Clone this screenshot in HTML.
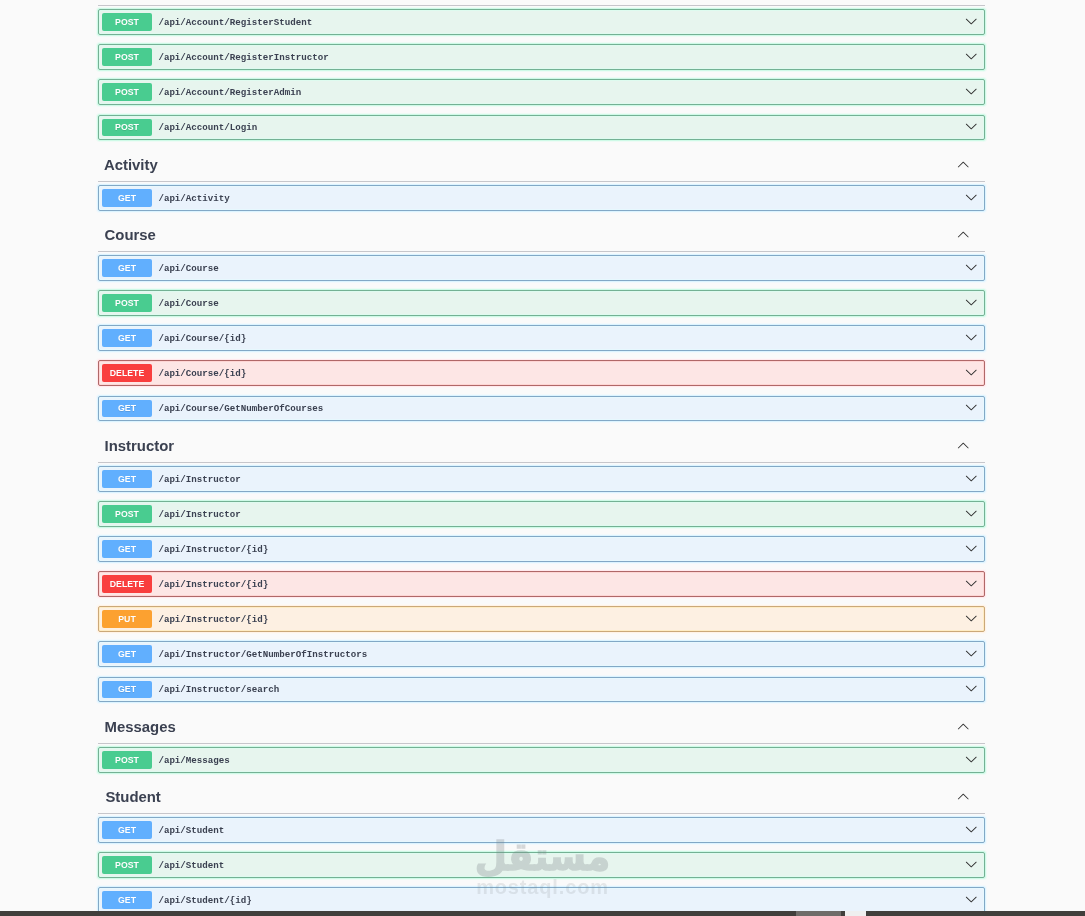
<!DOCTYPE html>
<html lang="en">
<head>
<meta charset="utf-8">
<title>Swagger UI</title>
<style>
*{box-sizing:border-box}
html,body{margin:0;padding:0}
body{width:1085px;height:916px;overflow:hidden;background:#fafafa;position:relative;font-family:"Liberation Sans",sans-serif;color:#3b4151}
#page{position:absolute;left:0;top:0;width:1085px;height:916px;overflow:hidden;will-change:transform}
.tag{position:absolute;left:98px;width:887px;height:33px;margin:0;padding:0 0 0 6px;border-bottom:1px solid #c6c6cb;font:700 14.9px/17px "Liberation Sans",sans-serif;color:#3b4151}
.tag span{position:absolute;left:5.6px;top:7.8px;white-space:nowrap}
button{background:none;border:0;padding:0;margin:0;display:block;line-height:0}
.expand{position:absolute;left:859px;top:9.4px;width:12.5px;height:12.5px}
.arrow{display:block;width:12.5px;height:12.5px;fill:#2e2e2e}
.opblock{position:absolute;left:98px;width:887px;border:1px solid #000;border-radius:2px}
.method{position:absolute;left:3px;top:3px;width:50px;height:17.7px;border-radius:2px;color:#fff;font:700 8.75px/17.7px "Liberation Sans",sans-serif;text-align:center;text-shadow:0 .6px 0 rgba(0,0,0,.1)}
.path{position:absolute;left:59.4px;top:3.8px;font:700 9.165px/18px "Liberation Mono",monospace;color:#3b4151;white-space:nowrap}
.ctl{position:absolute;left:866px;top:4.5px;width:12.5px;height:12.5px}
.short .ctl{top:3.7px}
.short .path{top:3.3px}
.short .method{height:16.8px;line-height:16.8px}
.short .method b{transform:translateY(-.3px) scaleY(1.12)}
.method b{display:block;font-weight:700;transform:translateY(.6px) scaleY(1.12);transform-origin:50% 52%}
.post{border-color:#74b194;background:#e7f5ee;box-shadow:0 0 0 1px rgba(195,250,226,.75),0 0 0 2px rgba(225,252,240,.5),inset 0 0 0 1px rgba(215,255,240,.55)}.post .method{background:#49cc90}
.get{border-color:#82a8c6;background:#eaf3fc;box-shadow:0 0 0 1px rgba(212,242,255,.75),0 0 0 2px rgba(235,248,255,.5),inset 0 0 0 1px rgba(228,251,255,.55)}.get .method{background:#61affe}
.delete{border-color:#b06868;background:#fde6e5;box-shadow:0 0 0 1px rgba(255,230,234,.75),0 0 0 2px rgba(255,244,246,.5),inset 0 0 0 1px rgba(255,195,195,.5)}.delete .method{background:#f93e3e}
.put{border-color:#cba878;background:#fdf0e2;box-shadow:0 0 0 1px rgba(255,240,226,.75),0 0 0 2px rgba(255,248,240,.5),inset 0 0 0 1px rgba(255,232,165,.5)}.put .method{background:#fca130}
#wm{position:absolute;left:462.5px;top:833px;width:160px;text-align:center;color:#7d8488;pointer-events:none}
#wm .ar{font:700 37px/44px "DejaVu Sans",sans-serif;direction:rtl;white-space:nowrap;-webkit-text-stroke:1.4px #7d8488;opacity:.29;transform:translateY(2.5px) scaleY(1.06);transform-origin:50% 50%}
#wm .en{font:700 20px/22px "Liberation Sans",sans-serif;white-space:nowrap;letter-spacing:.85px;margin-top:-1.5px;opacity:.16}
#bar{position:absolute;left:0;top:911px;width:1085px;height:5px;background:#413f3c}
#bar i{position:absolute;top:0;height:5px;display:block}
#bar .thumb{left:796px;width:45px;background:#6f6c69}
#bar .gap{left:845px;width:21px;background:#efefef}
</style>
</head>
<body>
<div id="page">
<section>
<h3 class="tag" style="top:-27px"></h3>
<div class="opblock post" style="top:9px;height:26px"><span class="method"><b>POST</b></span><span class="path">/api/Account/RegisterStudent</span><button class="ctl"><svg class="arrow" viewBox="0 0 20 20"><path d="M17.418 6.109c.272-.268.709-.268.979 0s.271.701 0 .969l-7.908 7.83c-.27.268-.707.268-.979 0l-7.908-7.83c-.27-.268-.27-.701 0-.969.271-.268.709-.268.979 0L10 13.25l7.418-7.141z"/></svg></button></div>
<div class="opblock post" style="top:44px;height:26px"><span class="method"><b>POST</b></span><span class="path">/api/Account/RegisterInstructor</span><button class="ctl"><svg class="arrow" viewBox="0 0 20 20"><path d="M17.418 6.109c.272-.268.709-.268.979 0s.271.701 0 .969l-7.908 7.83c-.27.268-.707.268-.979 0l-7.908-7.83c-.27-.268-.27-.701 0-.969.271-.268.709-.268.979 0L10 13.25l7.418-7.141z"/></svg></button></div>
<div class="opblock post" style="top:79px;height:26px"><span class="method"><b>POST</b></span><span class="path">/api/Account/RegisterAdmin</span><button class="ctl"><svg class="arrow" viewBox="0 0 20 20"><path d="M17.418 6.109c.272-.268.709-.268.979 0s.271.701 0 .969l-7.908 7.83c-.27.268-.707.268-.979 0l-7.908-7.83c-.27-.268-.27-.701 0-.969.271-.268.709-.268.979 0L10 13.25l7.418-7.141z"/></svg></button></div>
<div class="opblock post short" style="top:115px;height:25px"><span class="method"><b>POST</b></span><span class="path">/api/Account/Login</span><button class="ctl"><svg class="arrow" viewBox="0 0 20 20"><path d="M17.418 6.109c.272-.268.709-.268.979 0s.271.701 0 .969l-7.908 7.83c-.27.268-.707.268-.979 0l-7.908-7.83c-.27-.268-.27-.701 0-.969.271-.268.709-.268.979 0L10 13.25l7.418-7.141z"/></svg></button></div>
</section>
<section>
<h3 class="tag" style="top:149px"><span style="left:5.9px">Activity</span><button class="expand"><svg class="arrow" viewBox="0 0 20 20"><path d="M17.418 14.908c.272.268.709.268.979 0s.271-.701 0-.969l-7.908-7.83c-.27-.268-.707-.268-.979 0l-7.908 7.83c-.27.268-.27.701 0 .969.271.268.709.268.979 0L10 7.767l7.418 7.141z"/></svg></button></h3>
<div class="opblock get" style="top:185px;height:26px"><span class="method"><b>GET</b></span><span class="path">/api/Activity</span><button class="ctl"><svg class="arrow" viewBox="0 0 20 20"><path d="M17.418 6.109c.272-.268.709-.268.979 0s.271.701 0 .969l-7.908 7.83c-.27.268-.707.268-.979 0l-7.908-7.83c-.27-.268-.27-.701 0-.969.271-.268.709-.268.979 0L10 13.25l7.418-7.141z"/></svg></button></div>
</section>
<section>
<h3 class="tag" style="top:219px"><span style="left:6.6px">Course</span><button class="expand"><svg class="arrow" viewBox="0 0 20 20"><path d="M17.418 14.908c.272.268.709.268.979 0s.271-.701 0-.969l-7.908-7.83c-.27-.268-.707-.268-.979 0l-7.908 7.83c-.27.268-.27.701 0 .969.271.268.709.268.979 0L10 7.767l7.418 7.141z"/></svg></button></h3>
<div class="opblock get" style="top:255px;height:26px"><span class="method"><b>GET</b></span><span class="path">/api/Course</span><button class="ctl"><svg class="arrow" viewBox="0 0 20 20"><path d="M17.418 6.109c.272-.268.709-.268.979 0s.271.701 0 .969l-7.908 7.83c-.27.268-.707.268-.979 0l-7.908-7.83c-.27-.268-.27-.701 0-.969.271-.268.709-.268.979 0L10 13.25l7.418-7.141z"/></svg></button></div>
<div class="opblock post" style="top:290px;height:26px"><span class="method"><b>POST</b></span><span class="path">/api/Course</span><button class="ctl"><svg class="arrow" viewBox="0 0 20 20"><path d="M17.418 6.109c.272-.268.709-.268.979 0s.271.701 0 .969l-7.908 7.83c-.27.268-.707.268-.979 0l-7.908-7.83c-.27-.268-.27-.701 0-.969.271-.268.709-.268.979 0L10 13.25l7.418-7.141z"/></svg></button></div>
<div class="opblock get" style="top:325px;height:26px"><span class="method"><b>GET</b></span><span class="path">/api/Course/{id}</span><button class="ctl"><svg class="arrow" viewBox="0 0 20 20"><path d="M17.418 6.109c.272-.268.709-.268.979 0s.271.701 0 .969l-7.908 7.83c-.27.268-.707.268-.979 0l-7.908-7.83c-.27-.268-.27-.701 0-.969.271-.268.709-.268.979 0L10 13.25l7.418-7.141z"/></svg></button></div>
<div class="opblock delete" style="top:360px;height:26px"><span class="method"><b>DELETE</b></span><span class="path">/api/Course/{id}</span><button class="ctl"><svg class="arrow" viewBox="0 0 20 20"><path d="M17.418 6.109c.272-.268.709-.268.979 0s.271.701 0 .969l-7.908 7.83c-.27.268-.707.268-.979 0l-7.908-7.83c-.27-.268-.27-.701 0-.969.271-.268.709-.268.979 0L10 13.25l7.418-7.141z"/></svg></button></div>
<div class="opblock get short" style="top:396px;height:25px"><span class="method"><b>GET</b></span><span class="path">/api/Course/GetNumberOfCourses</span><button class="ctl"><svg class="arrow" viewBox="0 0 20 20"><path d="M17.418 6.109c.272-.268.709-.268.979 0s.271.701 0 .969l-7.908 7.83c-.27.268-.707.268-.979 0l-7.908-7.83c-.27-.268-.27-.701 0-.969.271-.268.709-.268.979 0L10 13.25l7.418-7.141z"/></svg></button></div>
</section>
<section>
<h3 class="tag" style="top:430px"><span style="left:6.6px">Instructor</span><button class="expand"><svg class="arrow" viewBox="0 0 20 20"><path d="M17.418 14.908c.272.268.709.268.979 0s.271-.701 0-.969l-7.908-7.83c-.27-.268-.707-.268-.979 0l-7.908 7.83c-.27.268-.27.701 0 .969.271.268.709.268.979 0L10 7.767l7.418 7.141z"/></svg></button></h3>
<div class="opblock get" style="top:466px;height:26px"><span class="method"><b>GET</b></span><span class="path">/api/Instructor</span><button class="ctl"><svg class="arrow" viewBox="0 0 20 20"><path d="M17.418 6.109c.272-.268.709-.268.979 0s.271.701 0 .969l-7.908 7.83c-.27.268-.707.268-.979 0l-7.908-7.83c-.27-.268-.27-.701 0-.969.271-.268.709-.268.979 0L10 13.25l7.418-7.141z"/></svg></button></div>
<div class="opblock post" style="top:501px;height:26px"><span class="method"><b>POST</b></span><span class="path">/api/Instructor</span><button class="ctl"><svg class="arrow" viewBox="0 0 20 20"><path d="M17.418 6.109c.272-.268.709-.268.979 0s.271.701 0 .969l-7.908 7.83c-.27.268-.707.268-.979 0l-7.908-7.83c-.27-.268-.27-.701 0-.969.271-.268.709-.268.979 0L10 13.25l7.418-7.141z"/></svg></button></div>
<div class="opblock get" style="top:536px;height:26px"><span class="method"><b>GET</b></span><span class="path">/api/Instructor/{id}</span><button class="ctl"><svg class="arrow" viewBox="0 0 20 20"><path d="M17.418 6.109c.272-.268.709-.268.979 0s.271.701 0 .969l-7.908 7.83c-.27.268-.707.268-.979 0l-7.908-7.83c-.27-.268-.27-.701 0-.969.271-.268.709-.268.979 0L10 13.25l7.418-7.141z"/></svg></button></div>
<div class="opblock delete" style="top:571px;height:26px"><span class="method"><b>DELETE</b></span><span class="path">/api/Instructor/{id}</span><button class="ctl"><svg class="arrow" viewBox="0 0 20 20"><path d="M17.418 6.109c.272-.268.709-.268.979 0s.271.701 0 .969l-7.908 7.83c-.27.268-.707.268-.979 0l-7.908-7.83c-.27-.268-.27-.701 0-.969.271-.268.709-.268.979 0L10 13.25l7.418-7.141z"/></svg></button></div>
<div class="opblock put" style="top:606px;height:26px"><span class="method"><b>PUT</b></span><span class="path">/api/Instructor/{id}</span><button class="ctl"><svg class="arrow" viewBox="0 0 20 20"><path d="M17.418 6.109c.272-.268.709-.268.979 0s.271.701 0 .969l-7.908 7.83c-.27.268-.707.268-.979 0l-7.908-7.83c-.27-.268-.27-.701 0-.969.271-.268.709-.268.979 0L10 13.25l7.418-7.141z"/></svg></button></div>
<div class="opblock get" style="top:641px;height:26px"><span class="method"><b>GET</b></span><span class="path">/api/Instructor/GetNumberOfInstructors</span><button class="ctl"><svg class="arrow" viewBox="0 0 20 20"><path d="M17.418 6.109c.272-.268.709-.268.979 0s.271.701 0 .969l-7.908 7.83c-.27.268-.707.268-.979 0l-7.908-7.83c-.27-.268-.27-.701 0-.969.271-.268.709-.268.979 0L10 13.25l7.418-7.141z"/></svg></button></div>
<div class="opblock get short" style="top:677px;height:25px"><span class="method"><b>GET</b></span><span class="path">/api/Instructor/search</span><button class="ctl"><svg class="arrow" viewBox="0 0 20 20"><path d="M17.418 6.109c.272-.268.709-.268.979 0s.271.701 0 .969l-7.908 7.83c-.27.268-.707.268-.979 0l-7.908-7.83c-.27-.268-.27-.701 0-.969.271-.268.709-.268.979 0L10 13.25l7.418-7.141z"/></svg></button></div>
</section>
<section>
<h3 class="tag" style="top:711px"><span style="left:6.6px">Messages</span><button class="expand"><svg class="arrow" viewBox="0 0 20 20"><path d="M17.418 14.908c.272.268.709.268.979 0s.271-.701 0-.969l-7.908-7.83c-.27-.268-.707-.268-.979 0l-7.908 7.83c-.27.268-.27.701 0 .969.271.268.709.268.979 0L10 7.767l7.418 7.141z"/></svg></button></h3>
<div class="opblock post" style="top:747px;height:26px"><span class="method"><b>POST</b></span><span class="path">/api/Messages</span><button class="ctl"><svg class="arrow" viewBox="0 0 20 20"><path d="M17.418 6.109c.272-.268.709-.268.979 0s.271.701 0 .969l-7.908 7.83c-.27.268-.707.268-.979 0l-7.908-7.83c-.27-.268-.27-.701 0-.969.271-.268.709-.268.979 0L10 13.25l7.418-7.141z"/></svg></button></div>
</section>
<section>
<h3 class="tag" style="top:781px"><span style="left:7.4px">Student</span><button class="expand"><svg class="arrow" viewBox="0 0 20 20"><path d="M17.418 14.908c.272.268.709.268.979 0s.271-.701 0-.969l-7.908-7.83c-.27-.268-.707-.268-.979 0l-7.908 7.83c-.27.268-.27.701 0 .969.271.268.709.268.979 0L10 7.767l7.418 7.141z"/></svg></button></h3>
<div class="opblock get" style="top:817px;height:26px"><span class="method"><b>GET</b></span><span class="path">/api/Student</span><button class="ctl"><svg class="arrow" viewBox="0 0 20 20"><path d="M17.418 6.109c.272-.268.709-.268.979 0s.271.701 0 .969l-7.908 7.83c-.27.268-.707.268-.979 0l-7.908-7.83c-.27-.268-.27-.701 0-.969.271-.268.709-.268.979 0L10 13.25l7.418-7.141z"/></svg></button></div>
<div class="opblock post" style="top:852px;height:26px"><span class="method"><b>POST</b></span><span class="path">/api/Student</span><button class="ctl"><svg class="arrow" viewBox="0 0 20 20"><path d="M17.418 6.109c.272-.268.709-.268.979 0s.271.701 0 .969l-7.908 7.83c-.27.268-.707.268-.979 0l-7.908-7.83c-.27-.268-.27-.701 0-.969.271-.268.709-.268.979 0L10 13.25l7.418-7.141z"/></svg></button></div>
<div class="opblock get" style="top:887px;height:26px"><span class="method"><b>GET</b></span><span class="path">/api/Student/{id}</span><button class="ctl"><svg class="arrow" viewBox="0 0 20 20"><path d="M17.418 6.109c.272-.268.709-.268.979 0s.271.701 0 .969l-7.908 7.83c-.27.268-.707.268-.979 0l-7.908-7.83c-.27-.268-.27-.701 0-.969.271-.268.709-.268.979 0L10 13.25l7.418-7.141z"/></svg></button></div>
</section>
<div id="wm"><div class="ar">مستقل</div><div class="en">mostaql.com</div></div>
<div id="bar"><i class="thumb"></i><i class="gap"></i></div>
</div>
</body>
</html>
